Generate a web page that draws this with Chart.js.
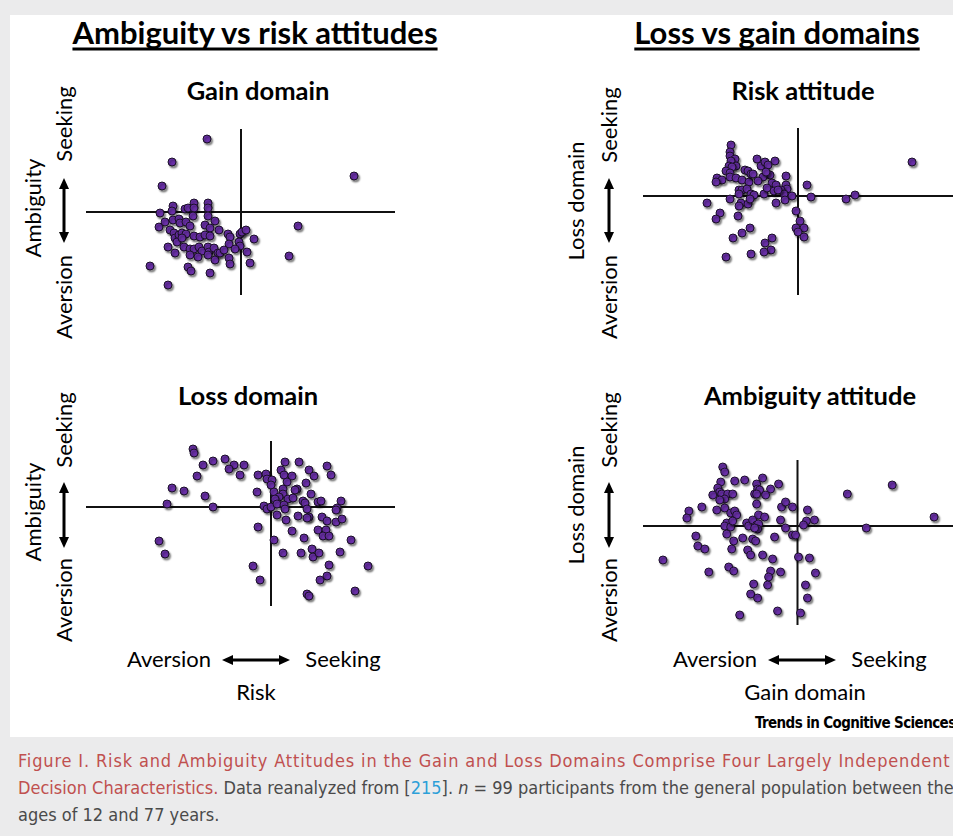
<!DOCTYPE html>
<html>
<head>
<meta charset="utf-8">
<script src="https://cdn.jsdelivr.net/npm/chart.js@4.4.1/dist/chart.umd.min.js"></script>
<style>
  body { margin: 0; width: 953px; height: 836px; background: #ebebec; position: relative; overflow: hidden; font-family: Lato, "Open Sans", sans-serif; }
  #panel { position: absolute; left: 10px; top: 15px; width: 943px; height: 722px; background: #fff; }
  .lbl { position: absolute; white-space: nowrap; color: #000; transform: translate(-50%, -50%); line-height: 1; }
  .rot { transform: translate(-50%, -50%) rotate(-90deg); }
  .box { position: absolute; }
  .cap { position: absolute; left: 18px; white-space: nowrap; font-family: "Liberation Sans Narrow", "DejaVu Sans Condensed", sans-serif; font-size: 18px; color: #4a4a4a; line-height: 1; transform: translateY(-50%); }
  .red { color: #c0504f; }
  .blue { color: #2d9fd8; }
</style>
</head>
<body>
<div id="panel"></div>
<div id="texts"></div>
<div class="box" id="c1"><canvas id="gainChart"></canvas></div>
<div class="box" id="c2"><canvas id="lossChart"></canvas></div>
<div class="box" id="c3"><canvas id="riskChart"></canvas></div>
<div class="box" id="c4"><canvas id="ambChart"></canvas></div>
<div class="cap" style="top:761px; letter-spacing:0.85px"><span class="red">Figure I. Risk and Ambiguity Attitudes in the Gain and Loss Domains Comprise Four Largely Independent</span></div>
<div class="cap" style="top:788px"><span class="red">Decision Characteristics.</span> Data reanalyzed from [<span class="blue">215</span>]. <i>n</i> = 99 participants from the general population between the</div>
<div class="cap" style="top:815px">ages of 12 and 77 years.</div>
<script>
// risk (x) vs ambiguity (y) attitude, gain domain
const gainRisk = [-3.4, -6.9, -7.9, 11.3, -6.8, -6.9, -5.6, -5.3, -4.7, -4.7, -3.3, -3.3, -8.1, -4.8, -3.3, -2.6, -8.2, -7.6, -6.8, -6.2, -6.1, -5.5, -5.1, -3.6, -3.1, -2.2, -7.1, -6.7, -6.6, -6.2, -5.9, -5.5, -4.7, -4.1, -3.6, -3.1, -6.4, -5.9, -1.3, -1.1, -0.1, 0.1, 0.5, -0.2, 1.3, -1.2, -0.1, -7.3, -6.6, -5.7, -5.1, -4.7, -4.2, -3.9, -3.3, -3.2, -2.7, -2.3, -5.1, -4.3, -3.3, -2.6, -2.1, -1.7, -0.6, 0.6, -1.2, -1.1, 0.9, 4.8, 5.7, -9.1, -5.3, -5.0, -3.1, -7.3];
const gainAmb  = [7.3, 5.0, 2.6, 3.6, 0.6, 0.1, 0.3, 0.4, 0.9, 0.4, 0.9, 0.4, -0.1, -0.4, -0.4, -0.9, -1.5, -1.0, -0.8, -0.7, -1.1, -1.0, -1.4, -1.3, -1.6, -1.8, -1.8, -2.1, -2.6, -2.3, -2.1, -2.2, -2.4, -2.5, -2.3, -2.4, -3.0, -2.6, -2.2, -2.5, -2.2, -2.0, -1.8, -3.0, -2.7, -3.2, -3.4, -3.5, -4.1, -3.5, -3.7, -3.7, -3.5, -3.9, -3.5, -4.0, -3.6, -4.1, -4.3, -4.5, -4.3, -4.8, -4.1, -3.8, -3.7, -4.0, -4.6, -5.2, -5.1, -4.4, -1.4, -5.4, -5.5, -5.9, -6.1, -7.3];

// risk (x) vs ambiguity (y) attitude, loss domain
const lossRisk = [-7.8, -7.7, -6.8, -5.8, -4.6, -3.7, -4.2, -2.7, -3.1, -7.4, -9.9, -8.7, -6.6, -10.4, -5.8, -11.2, -10.6, -1.3, -0.5, -0.4, 0.1, 0.0, -1.4, 0.3, 1.4, 2.8, 1.0, 1.3, 2.1, 1.6, 3.8, 4.3, 5.6, 6.0, 3.5, 2.6, 2.4, 1.2, 1.2, 4.0, 0.8, 0.4, 1.7, 2.2, 3.2, 3.4, 4.7, 5.0, 7.0, -0.7, -0.4, 0.0, 0.6, 1.3, 1.4, 3.6, 6.6, 6.5, 0.6, 1.5, 2.7, 3.8, 3.6, 5.1, 5.6, 6.5, 7.1, -1.3, 2.1, 4.7, 5.5, 5.2, 5.8, 3.3, 8.0, 0.3, 1.2, 3.0, 4.1, 4.2, 4.8, 6.9, -1.8, -1.1, 5.8, 5.6, 4.9, 9.7, 3.6, 3.8, 8.4];
const lossAmb  = [5.8, 5.4, 4.2, 4.6, 4.8, 4.2, 3.8, 4.2, 3.2, 3.1, 1.9, 1.6, 1.1, 0.3, 0.0, -3.4, -4.7, 3.2, 3.3, 2.8, 2.7, 2.2, 1.5, 1.5, 4.5, 4.5, 3.7, 3.2, 3.1, 2.5, 3.7, 3.1, 4.1, 3.2, 2.4, 1.8, 1.7, 1.8, 1.3, 1.3, 1.0, 0.8, 0.8, 0.9, 0.6, 0.4, 0.5, 0.6, 0.6, 0.1, -0.2, 0.0, 0.3, 0.2, -0.2, -0.2, -0.1, -0.3, -0.8, -1.3, -0.9, -1.0, -1.1, -1.0, -1.4, -1.5, -1.2, -2.0, -2.4, -2.3, -2.3, -2.9, -2.9, -3.1, -3.3, -3.3, -4.6, -4.6, -4.2, -5.0, -4.6, -4.5, -5.9, -7.3, -5.8, -6.9, -7.3, -5.9, -8.7, -8.9, -8.4];

// gain domain (x) vs loss domain (y), risk attitude
const riskGain = [-6.7, -6.8, -6.8, -6.3, -6.7, -6.9, -6.2, -6.6, -7.2, -6.8, -8.1, -7.6, -8.2, -6.8, -6.2, -5.6, -4.9, -5.3, -5.0, -4.7, -4.5, -4.1, -3.7, -3.3, -3.0, -2.3, -2.8, -3.5, -3.2, -4.0, -2.6, -2.2, -1.2, -1.2, -1.1, 0.9, 1.3, 4.8, 5.7, 11.4, -5.9, -5.6, -5.1, -5.9, -4.7, -4.4, -3.4, -3.1, -2.4, -1.7, -1.4, -0.6, -2.0, -9.1, -6.8, -5.7, -5.9, -5.0, -4.8, -2.2, -1.3, -7.8, -8.2, -6.0, -4.8, -5.6, -6.5, -2.6, -3.3, -2.7, -3.4, -4.7, -7.2, -0.2, 0.2, -0.2, 0.6, 0.0, 0.6];
const riskLoss = [5.1, 4.4, 4.0, 3.7, 3.5, 3.0, 3.0, 2.9, 2.5, 2.3, 1.8, 1.6, 1.4, 1.9, 1.8, 1.6, 1.4, 2.6, 2.5, 2.2, 2.2, 3.7, 3.0, 3.4, 3.1, 3.5, 2.1, 1.9, 2.4, 1.5, 1.3, 1.1, 2.0, 1.1, 0.7, 1.1, -0.1, -0.3, 0.1, 3.4, 0.6, 0.6, 0.7, 0.2, 0.2, 0.1, 0.2, 0.8, 0.5, 0.6, 0.2, 0.0, 0.6, -0.7, -0.3, -0.7, -1.0, -0.8, -0.3, -0.7, -0.4, -1.7, -2.3, -2.0, -3.2, -3.7, -4.2, -4.2, -4.7, -5.4, -5.6, -5.8, -6.1, -1.5, -2.5, -3.2, -3.2, -3.6, -4.1];

// gain domain (x) vs loss domain (y), ambiguity attitude
const ambGain = [-7.5, -7.3, -7.7, -6.3, -5.3, -4.1, -3.5, -1.9, -2.7, -4.0, -3.8, -8.0, -7.8, -8.5, -7.6, -7.0, -6.5, -7.3, -7.8, -4.3, -4.1, -3.2, -10.9, -11.1, -9.6, -8.1, -7.3, -6.7, -6.3, -6.1, -4.1, -3.9, -3.3, -1.6, -1.2, -0.5, -1.7, -7.1, -7.3, -6.7, -6.5, -5.1, -4.9, -4.5, -4.1, -3.9, -4.0, -4.3, -1.2, -0.5, -0.2, 1.0, 0.9, 0.6, 1.7, 5.0, 9.5, 13.7, 6.9, -10.2, -7.1, -6.4, -5.5, -4.5, -4.2, -2.3, -10.0, -9.3, -6.6, -5.0, -4.7, -3.5, -2.5, 0.1, 1.2, -13.5, -8.9, -6.9, -6.4, -2.7, -2.9, -1.7, 1.8, -4.4, -3.0, 0.8, -4.7, -4.0, 1.0, -5.8, -2.0, 0.3];
const ambLoss = [5.9, 5.4, 4.4, 4.5, 4.6, 4.2, 4.8, 4.2, 3.7, 3.7, 3.6, 3.8, 3.4, 3.1, 3.2, 3.2, 3.2, 2.7, 2.6, 3.2, 3.2, 3.1, 1.5, 0.8, 1.9, 1.6, 1.8, 1.3, 1.5, 1.1, 2.2, 1.1, 0.9, 1.9, 2.4, 1.9, 0.6, 0.3, 0.0, -0.1, 0.5, 0.3, 0.0, 0.6, 0.1, 0.2, -0.3, -0.2, -0.2, -0.9, -0.9, 1.6, 0.5, 0.1, 0.6, 3.2, 4.1, 0.9, -0.2, -1.0, -0.8, -1.5, -1.2, -1.3, -1.5, -1.1, -2.0, -2.3, -2.3, -2.4, -2.9, -2.9, -3.3, -3.1, -3.2, -3.4, -4.6, -4.1, -4.5, -4.5, -5.1, -4.6, -4.7, -5.8, -5.9, -5.9, -6.8, -7.2, -7.2, -8.9, -8.5, -8.7];

const PAD = 10;
const DOT_FILL = '#6a30a8';
const DOT_EDGE = '#1b1028';

// draws the zero lines across the whole plot area
const crosshair = {
    id: 'crosshair',
    beforeDatasetsDraw(chart) {
        const { ctx, chartArea: a, scales } = chart;
        const x0 = scales.x.getPixelForValue(0);
        const y0 = scales.y.getPixelForValue(0);
        ctx.save();
        ctx.strokeStyle = '#111';
        ctx.lineWidth = 2;
        ctx.beginPath();
        ctx.moveTo(a.left, y0);
        ctx.lineTo(a.right, y0);
        ctx.moveTo(x0, a.top);
        ctx.lineTo(x0, a.bottom);
        ctx.stroke();
        ctx.restore();
    }
};

// soft drop shadow under the dots
const dotShadow = {
    id: 'dotShadow',
    beforeDatasetDraw(chart) {
        const ctx = chart.ctx;
        ctx.save();
        ctx.shadowColor = 'rgba(0,0,0,0.45)';
        ctx.shadowBlur = 2;
        ctx.shadowOffsetX = 1.5;
        ctx.shadowOffsetY = 2;
    },
    afterDatasetDraw(chart) {
        chart.ctx.restore();
    }
};

function makeChart(canvasId, boxId, left, top, width, height, xs, ys, xRange, yRange) {
    const box = document.getElementById(boxId);
    box.style.left = (left - PAD) + 'px';
    box.style.top = (top - PAD) + 'px';
    const cv = document.getElementById(canvasId);
    cv.width = width + 2 * PAD;
    cv.height = height + 2 * PAD;
    new Chart(cv, {
        type: 'scatter',
        data: {
            datasets: [{
                data: xs.map((x, i) => ({ x: x, y: ys[i] })),
                backgroundColor: DOT_FILL,
                borderColor: DOT_EDGE,
                borderWidth: 1,
                pointRadius: 4,
                clip: false
            }]
        },
        options: {
            responsive: false,
            animation: false,
            events: [],
            layout: { padding: PAD },
            plugins: { legend: { display: false }, tooltip: { enabled: false } },
            scales: {
                x: { type: 'linear', min: xRange[0], max: xRange[1], display: false },
                y: { type: 'linear', min: yRange[0], max: yRange[1], display: false }
            }
        },
        plugins: [crosshair, dotShadow]
    });
}

makeChart('gainChart', 'c1', 86, 129, 309, 166, gainRisk, gainAmb, [-15.5, 15.4], [-8.3, 8.3]);
makeChart('lossChart', 'c2', 86, 441, 309, 165, lossRisk, lossAmb, [-18.5, 12.4], [-9.9, 6.6]);
makeChart('riskChart', 'c3', 643, 128, 310, 167, riskGain, riskLoss, [-15.5, 15.5], [-9.9, 6.8]);
makeChart('ambChart', 'c4', 643, 460, 310, 165, ambGain, ambLoss, [-15.5, 15.6], [-9.9, 6.6]);

// text labels
const texts = document.getElementById('texts');
function label(txt, cx, cy, size, bold, rotated, extra) {
    const d = document.createElement('div');
    d.className = 'lbl' + (rotated ? ' rot' : '');
    d.textContent = txt;
    d.style.left = cx + 'px';
    d.style.top = cy + 'px';
    d.style.fontSize = size + 'px';
    d.style.fontWeight = bold ? '700' : '400';
    if (extra) Object.assign(d.style, extra);
    texts.appendChild(d);
}
const under = { textDecoration: 'underline', textDecorationThickness: '3px', textUnderlineOffset: '4px', textDecorationSkipInk: 'none' };
label('Ambiguity vs risk attitudes', 255, 32, 31, true, false, under);
label('Loss vs gain domains', 777, 32, 31, true, false, under);
label('Gain domain', 258, 91, 25.5, true);
label('Risk attitude', 803, 91, 25.5, true);
label('Loss domain', 248, 396, 25.5, true);
label('Ambiguity attitude', 810, 396, 25.5, true);

label('Ambiguity', 33, 208, 22, false, true);
label('Seeking', 64, 124, 22, false, true);
label('Aversion', 64, 297, 22, false, true);
label('Ambiguity', 33, 512, 22, false, true);
label('Seeking', 64, 430, 22, false, true);
label('Aversion', 64, 600, 22, false, true);
label('Loss domain', 576, 201, 22, false, true);
label('Seeking', 609, 125, 22, false, true);
label('Aversion', 609, 297, 22, false, true);
label('Loss domain', 576, 505, 22, false, true);
label('Seeking', 609, 430, 22, false, true);
label('Aversion', 609, 600, 22, false, true);

label('Aversion', 169, 659, 22, false);
label('Seeking', 343, 659, 22, false);
label('Risk', 256, 692, 22, false);
label('Aversion', 715, 659, 22, false);
label('Seeking', 889, 659, 22, false);
label('Gain domain', 805, 692, 22, false);

const brand = document.createElement('div');
brand.textContent = 'Trends in Cognitive Sciences';
Object.assign(brand.style, { position: 'absolute', left: '755px', top: '723px', transform: 'translateY(-50%)', whiteSpace: 'nowrap', fontFamily: '"Liberation Sans Narrow", "DejaVu Sans Condensed", sans-serif', fontWeight: '700', fontSize: '15px', letterSpacing: '-0.6px', lineHeight: '1' });
texts.appendChild(brand);

// double headed arrows
function arrow(x1, y1, x2, y2) {
    const svgNS = 'http://www.w3.org/2000/svg';
    const svg = document.createElementNS(svgNS, 'svg');
    svg.setAttribute('width', 953);
    svg.setAttribute('height', 836);
    Object.assign(svg.style, { position: 'absolute', left: '0', top: '0', pointerEvents: 'none' });
    const dx = x2 - x1, dy = y2 - y1, len = Math.hypot(dx, dy);
    const ux = dx / len, uy = dy / len, px = -uy, py = ux;
    const head = 11, half = 5;
    const line = document.createElementNS(svgNS, 'line');
    line.setAttribute('x1', x1 + ux * head * 0.8); line.setAttribute('y1', y1 + uy * head * 0.8);
    line.setAttribute('x2', x2 - ux * head * 0.8); line.setAttribute('y2', y2 - uy * head * 0.8);
    line.setAttribute('stroke', '#000'); line.setAttribute('stroke-width', 3);
    svg.appendChild(line);
    [[x1, y1, 1], [x2, y2, -1]].forEach(([tx, ty, s]) => {
        const bx = tx + ux * head * s, by = ty + uy * head * s;
        const p = document.createElementNS(svgNS, 'polygon');
        p.setAttribute('points', `${tx},${ty} ${bx + px * half},${by + py * half} ${bx - px * half},${by - py * half}`);
        p.setAttribute('fill', '#000');
        svg.appendChild(p);
    });
    texts.appendChild(svg);
}
arrow(64, 178, 64, 243);
arrow(64, 482, 64, 548);
arrow(609, 178, 609, 243);
arrow(609, 482, 609, 548);
arrow(222, 660, 290, 660);
arrow(768, 660, 836, 660);
</script>
</body>
</html>
